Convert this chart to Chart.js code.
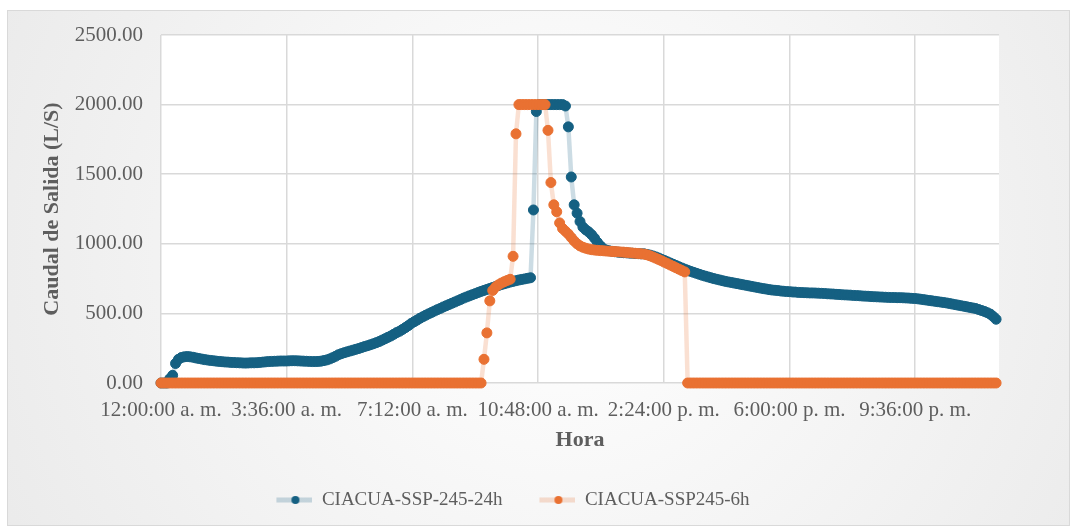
<!DOCTYPE html>
<html>
<head>
<meta charset="utf-8">
<script src="https://cdn.jsdelivr.net/npm/chart.js@4.4.1/dist/chart.umd.min.js"></script>
<style>
  html, body { margin: 0; padding: 0; background: #ffffff; }
  #wrap { width: 1076px; height: 531px; }
</style>
</head>
<body>
<div id="wrap"><canvas id="c" width="1076" height="531"></canvas></div>
<script>
// Outflow hydrographs, one value every 5 minutes from 00:00 to 23:55
const stepMinutes = 5;
const seriesNames = ['CIACUA-SSP-245-24h', 'CIACUA-SSP245-6h'];

const flow24h = [
  0, 0, 0, 30, 55, 140, 170, 183, 188, 190, 188, 185,
  180, 176, 172, 168, 165, 162, 160, 157, 155, 153, 151, 150,
  148, 147, 146, 145, 144, 143, 144, 145, 145, 146, 148, 150,
  152, 154, 155, 156, 157, 158, 158, 158, 159, 160, 160, 159,
  158, 157, 156, 155, 154, 154, 155, 157, 161, 166, 173, 182,
  192, 203, 211, 218, 224, 230, 236, 242, 248, 255, 262, 268,
  275, 282, 290, 298, 308, 318, 328, 338, 350, 362, 372, 385,
  398, 412, 428, 440, 452, 465, 476, 487, 497, 507, 517, 527,
  536, 546, 555, 564, 573, 582, 591, 600, 610, 618, 626, 634,
  642, 650, 658, 665, 672, 679, 686, 693, 700, 707, 713, 719,
  725, 730, 735, 740, 744, 748, 752, 756, 1243, 1950, 2000, 2000,
  2000, 2000, 2000, 2000, 2000, 2000, 2000, 1990, 1840, 1480, 1280, 1220,
  1160, 1120, 1100, 1085, 1065, 1040, 1010, 985, 965, 955, 950, 946,
  943, 940, 938, 936, 935, 933, 932, 930, 929, 928, 928, 924,
  919, 913, 906, 898, 889, 880, 871, 862, 853, 844, 835, 826,
  818, 810, 802, 795, 788, 781, 774, 768, 762, 756, 750, 745,
  740, 735, 730, 726, 722, 718, 714, 710, 706, 702, 698, 694,
  690, 686, 682, 678, 675, 671, 668, 666, 664, 661, 659, 657,
  656, 654, 653, 651, 650, 649, 648, 647, 647, 646, 645, 644,
  643, 641, 640, 639, 637, 636, 634, 633, 632, 631, 629, 628,
  627, 625, 624, 623, 621, 620, 619, 618, 617, 616, 615, 614,
  614, 613, 613, 612, 611, 610, 608, 607, 605, 602, 599, 596,
  593, 590, 587, 584, 581, 578, 575, 571, 567, 563, 559, 555,
  551, 547, 543, 539, 535, 528, 521, 514, 505, 495, 478, 458
];

const flow6h = [
  0, 0, 0, 0, 0, 0, 0, 0, 0, 0, 0, 0,
  0, 0, 0, 0, 0, 0, 0, 0, 0, 0, 0, 0,
  0, 0, 0, 0, 0, 0, 0, 0, 0, 0, 0, 0,
  0, 0, 0, 0, 0, 0, 0, 0, 0, 0, 0, 0,
  0, 0, 0, 0, 0, 0, 0, 0, 0, 0, 0, 0,
  0, 0, 0, 0, 0, 0, 0, 0, 0, 0, 0, 0,
  0, 0, 0, 0, 0, 0, 0, 0, 0, 0, 0, 0,
  0, 0, 0, 0, 0, 0, 0, 0, 0, 0, 0, 0,
  0, 0, 0, 0, 0, 0, 0, 0, 0, 0, 0, 0,
  0, 0, 0, 170, 360, 590, 665, 690, 705, 718, 728, 737,
  745, 910, 1790, 2000, 2000, 2000, 2000, 2000, 2000, 2000, 2000, 2000,
  2000, 1815, 1440, 1280, 1230, 1150, 1110, 1090, 1070, 1045, 1020, 1000,
  985, 975, 968, 962, 958, 955, 953, 951, 950, 948, 947, 945,
  944, 943, 941, 940, 938, 936, 934, 932, 930, 928, 926, 921,
  914, 906, 897, 888, 878, 868, 858, 848, 838, 828, 818, 808,
  798, 0, 0, 0, 0, 0, 0, 0, 0, 0, 0, 0,
  0, 0, 0, 0, 0, 0, 0, 0, 0, 0, 0, 0,
  0, 0, 0, 0, 0, 0, 0, 0, 0, 0, 0, 0,
  0, 0, 0, 0, 0, 0, 0, 0, 0, 0, 0, 0,
  0, 0, 0, 0, 0, 0, 0, 0, 0, 0, 0, 0,
  0, 0, 0, 0, 0, 0, 0, 0, 0, 0, 0, 0,
  0, 0, 0, 0, 0, 0, 0, 0, 0, 0, 0, 0,
  0, 0, 0, 0, 0, 0, 0, 0, 0, 0, 0, 0,
  0, 0, 0, 0, 0, 0, 0, 0, 0, 0, 0, 0
];

const xTickLabels = ['12:00:00 a. m.', '3:36:00 a. m.', '7:12:00 a. m.', '10:48:00 a. m.',
                     '2:24:00 p. m.', '6:00:00 p. m.', '9:36:00 p. m.'];
const yTickLabels = ['0.00', '500.00', '1000.00', '1500.00', '2000.00', '2500.00'];
const xAxisTitle = 'Hora';
const yAxisTitle = 'Caudal de Salida (L/S)';

const BLUE = '#156082';
const ORANGE = '#E97132';
const BLUE_LINE = 'rgba(21, 96, 130, 0.22)';
const ORANGE_LINE = 'rgba(233, 113, 50, 0.22)';
const SERIF = "'Liberation Serif', 'Times New Roman', serif";
const TEXT = '#5e5e5e';
const GRID = '#d9d9d9';

const toPoints = arr => arr.map((v, i) => ({ x: i * stepMinutes, y: v }));

// Legend key: translucent line segment with a solid dot in the middle
function makeMarker(lineColor, dotColor) {
  const c = document.createElement('canvas');
  c.width = 63; c.height = 12;
  const g = c.getContext('2d');
  g.strokeStyle = lineColor;
  g.lineWidth = 5;
  g.beginPath(); g.moveTo(27, 6); g.lineTo(63, 6); g.stroke();
  g.fillStyle = dotColor;
  g.beginPath(); g.arc(46, 6, 4, 0, Math.PI * 2); g.fill();
  return c;
}
const markers = [makeMarker(BLUE_LINE, BLUE), makeMarker(ORANGE_LINE, ORANGE)];

// Framed, lightly shaded panel with a white plot area
const panelBackground = {
  id: 'panelBackground',
  beforeDraw(chart) {
    const { ctx, chartArea: a } = chart;
    ctx.save();
    ctx.fillStyle = '#ffffff';
    ctx.fillRect(0, 0, chart.width, chart.height);
    const grad = ctx.createRadialGradient(560, 250, 80, 560, 250, 640);
    grad.addColorStop(0, '#fdfdfd');
    grad.addColorStop(1, '#eaeaea');
    ctx.fillStyle = grad;
    ctx.fillRect(7, 10, 1062, 515);
    ctx.strokeStyle = '#d9d9d9';
    ctx.lineWidth = 1;
    ctx.strokeRect(7.5, 10.5, 1062, 515);
    ctx.fillStyle = '#ffffff';
    ctx.fillRect(a.left, a.top, a.right - a.left, a.bottom - a.top);
    ctx.restore();
  }
};

Chart.defaults.font.family = SERIF;
Chart.defaults.color = TEXT;

new Chart(document.getElementById('c'), {
  type: 'line',
  data: {
    datasets: [
      {
        label: seriesNames[0],
        data: toPoints(flow24h),
        borderColor: BLUE_LINE,
        borderWidth: 4.5,
        pointRadius: 5,
        pointBorderWidth: 1,
        pointBackgroundColor: BLUE,
        pointBorderColor: BLUE,
        tension: 0,
        clip: false,
        order: 1
      },
      {
        label: seriesNames[1],
        data: toPoints(flow6h),
        borderColor: ORANGE_LINE,
        borderWidth: 4.5,
        pointRadius: 5,
        pointBorderWidth: 1,
        pointBackgroundColor: ORANGE,
        pointBorderColor: ORANGE,
        tension: 0,
        clip: false,
        order: 0
      }
    ]
  },
  options: {
    responsive: false,
    animation: false,
    devicePixelRatio: 1,
    layout: { padding: { top: 35, right: 77, bottom: 11.5, left: 0 } },
    scales: {
      x: {
        type: 'linear',
        min: 0,
        max: 1440,
        afterFit(scale) { scale.height = 97.5; },
        ticks: {
          stepSize: 216,
          includeBounds: false,
          autoSkip: false,
          maxRotation: 0,
          padding: 15,
          color: TEXT,
          font: { size: 21, family: SERIF },
          callback: (v, i) => xTickLabels[i]
        },
        grid: { color: GRID, lineWidth: 1.5, drawTicks: false },
        border: { display: false },
        title: {
          display: true,
          text: xAxisTitle,
          color: TEXT,
          font: { size: 22, weight: 'bold', family: SERIF },
          padding: { top: 0, bottom: 27 }
        }
      },
      y: {
        min: 0,
        max: 2500,
        afterFit(scale) { scale.width = 161; },
        ticks: {
          stepSize: 500,
          padding: 18,
          color: TEXT,
          font: { size: 21, family: SERIF },
          callback: (v, i) => yTickLabels[i]
        },
        grid: { color: GRID, lineWidth: 1.5, drawTicks: false },
        border: { display: false },
        title: {
          display: true,
          text: yAxisTitle,
          color: TEXT,
          font: { size: 22, weight: 'bold', family: SERIF },
          padding: { top: 39, bottom: 0 }
        }
      }
    },
    plugins: {
      tooltip: { enabled: false },
      legend: {
        position: 'bottom',
        labels: {
          usePointStyle: true,
          pointStyleWidth: 63,
          padding: 10,
          color: TEXT,
          font: { size: 19, family: SERIF },
          generateLabels: () => seriesNames.map((name, i) => ({
            text: name,
            datasetIndex: i,
            pointStyle: markers[i],
            fillStyle: 'transparent',
            strokeStyle: 'transparent',
            lineWidth: 0,
            hidden: false,
            fontColor: TEXT
          }))
        }
      }
    }
  },
  plugins: [panelBackground]
});
</script>
</body>
</html>
